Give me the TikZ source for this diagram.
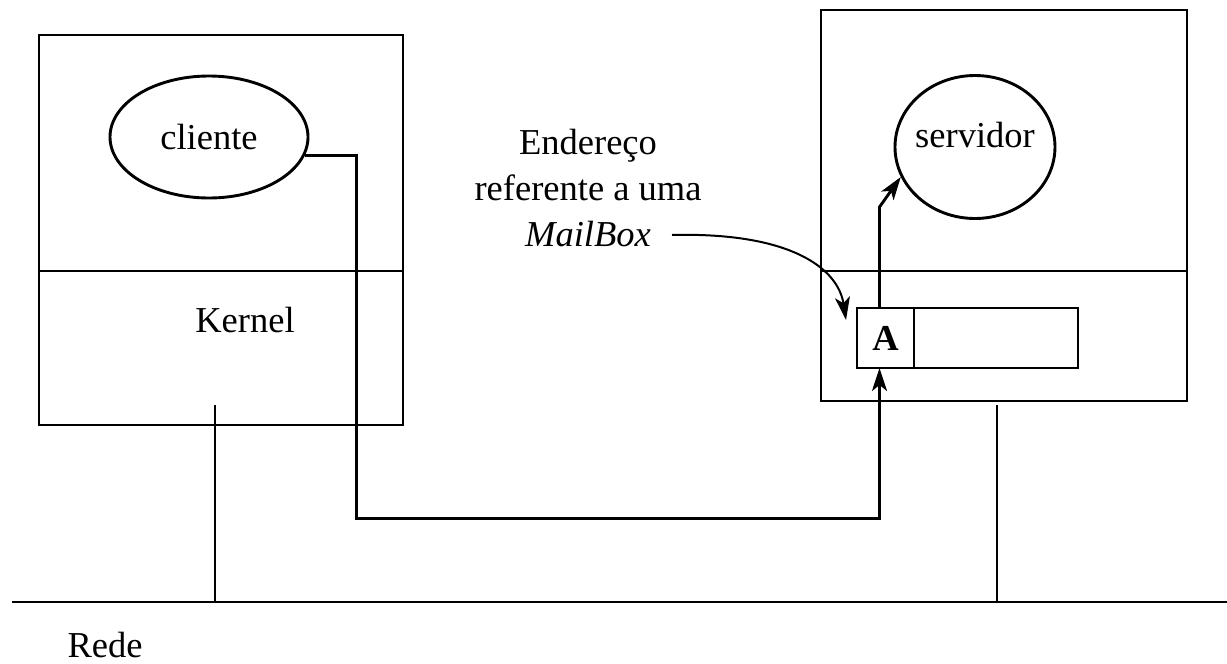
\documentclass[tikz,border=0pt]{standalone}
\usepackage{fontspec}
\setmainfont{Liberation Serif}
\usetikzlibrary{arrows.meta,positioning,shapes.geometric}

\begin{document}
\begin{tikzpicture}[
    x=1pt,y=-1pt,font=\fontsize{36.5}{46}\selectfont,
    line width=2.9pt,
    box/.style={draw,inner sep=0pt,outer sep=0pt,line width=2.9pt},
    proc/.style={draw,ellipse,inner sep=0pt,line width=2.9pt},
    cell/.style={draw,inner sep=0pt,outer sep=0pt,minimum height=60pt,line width=2.9pt},
    arrow/.style={-{Stealth[length=23pt,width=15pt,inset=6pt]},line width=2.9pt}
  ]
    \useasboundingbox (0,0) rectangle (1227,664);

    % cliente side
    \node[box,minimum width=364pt,minimum height=236pt] (cliproc) at (221,153) {};
    \node[box,minimum width=364pt,minimum height=154pt,below=0pt of cliproc] (clikern) {};
    \node[proc,minimum width=198pt,minimum height=122pt] (cliente) at (209,137) {cliente};
    \node (kernlbl) at (245,320) {Kernel};

    % servidor side
    \node[box,minimum width=366pt,minimum height=261pt] (srvproc) at (1004,140.5) {};
    \node[box,minimum width=366pt,minimum height=130pt,below=0pt of srvproc] (srvkern) {};
    \node[proc,minimum width=160pt,minimum height=143pt,
      label={[yshift=12pt]center:servidor}] (servidor) at (975,147) {};

    % mailbox
    \node[cell,minimum width=57pt,font=\fontsize{36.5}{46}\selectfont\bfseries] (acell) at (885.5,338) {A};
    \node[cell,minimum width=164pt,right=0pt of acell] (mbrest) {};

    \node[align=center] (addr) at (588,188) {Endere\c{c}o\\referente a uma\\\textit{MailBox}};
    \coordinate (mbtail) at (672,235);
    \coordinate (mbtip) at ([xshift=-11pt,yshift=18pt]acell.west);

    % rede
    \coordinate (netL) at (12,602);
    \coordinate (netR) at (1227,602);
    \coordinate (tapL) at (215,405);
    \coordinate (tapR) at (997,405);
    \node (rede) at (105,645) {Rede};

    \draw (netL) -- (netR);
    \draw (tapL) -- (tapL |- netL);
    \draw (tapR) -- (tapR |- netL);

    \draw[arrow] (cliente.-11) -- ++(52,0) -- ++(0,363) -| ([xshift=-6pt]acell.south);
    \draw[arrow] ([xshift=-6pt]acell.north) -- ++(0,-101) -- (servidor.202);
    \draw[arrow,line width=2pt] (mbtail) .. controls (790,232) and (838,268) .. (mbtip);
  \end{tikzpicture}
\end{document}
